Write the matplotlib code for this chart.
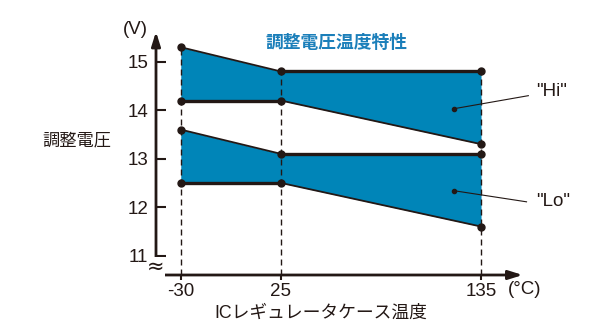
import matplotlib
matplotlib.use('Agg')
import matplotlib.pyplot as plt

# ---- data ----
temps = [-30, 25, 135]
hi_upper = [15.3, 14.8, 14.8]
hi_lower = [14.2, 14.2, 13.3]
lo_upper = [13.6, 13.1, 13.1]
lo_lower = [12.5, 12.5, 11.6]
yticks = [11, 12, 13, 14, 15]
title = '調整電圧温度特性'
ylabel = '調整電圧'
xlabel = 'ICレギュレータケース温度'
band_labels = ['"Hi"', '"Lo"']
# leader lines: (anchor point inside band, line end, text position)
leader_anchor = [(120, 14.03), (120, 12.34)]
leader_end = [(161, 14.30), (160, 12.11)]
leader_text = [(165.2, 14.38), (165.2, 12.11)]

plt.rcParams['font.family'] = ['Liberation Sans', 'Noto Sans CJK JP', 'DejaVu Sans']
plt.rcParams['axes.unicode_minus'] = False
INK = '#231815'
FILL = '#0085b8'
TITLE_C = '#1b7fba'

fig = plt.figure(figsize=(6, 3.3), dpi=100)
ax = fig.add_axes([156/600, 55/330, 366.7/600, 243.3/330])
ax.set_xlim(-43.6, 157.9)
ax.set_ylim(10.60, 15.62)
for s in ax.spines.values():
    s.set_visible(False)
ax.set_xticks(temps)
ax.set_yticks(yticks)
ax.tick_params(axis='x', direction='out', length=3.6, width=1.5, pad=2,
               labelsize=13.5, colors=INK)
ax.tick_params(axis='y', direction='in', length=7, width=1.5, pad=5.5,
               labelsize=13.5, colors=INK)

# axes with arrows
ap = dict(arrowstyle='-|>,head_length=0.7,head_width=0.22', color=INK, lw=2,
          shrinkA=0, shrinkB=0, mutation_scale=12)
ax.annotate('', xy=(1, 0), xytext=(0, 0), xycoords='axes fraction', arrowprops=ap)
ax.annotate('', xy=(0, 1), xytext=(0, 0), xycoords='axes fraction', arrowprops=ap)

# bands
for lo, up in [(hi_lower, hi_upper), (lo_lower, lo_upper)]:
    ax.fill_between(temps, lo, up, color=FILL, lw=0, zorder=1)

# dashed guide lines
ax.vlines(temps, ax.get_ylim()[0], hi_upper, colors=INK, lw=1.0,
          linestyles=(0, (4.3, 2.9)), zorder=2)

# boundary lines
for arr in [hi_upper, hi_lower, lo_upper, lo_lower]:
    for i in range(len(temps) - 1):
        lw = 2.4 if arr[i] == arr[i + 1] else 1.3
        ax.plot(temps[i:i + 2], arr[i:i + 2], color=INK, lw=lw,
                solid_capstyle='butt', zorder=3)
    ax.plot(temps, arr, 'o', ms=5, color=INK, zorder=5, clip_on=False)

# band labels
for lab, a, e, t in zip(band_labels, leader_anchor, leader_end, leader_text):
    ax.plot([a[0], e[0]], [a[1], e[1]], color=INK, lw=0.8, clip_on=False, zorder=4)
    ax.plot(a[0], a[1], 'o', ms=3, color=INK, clip_on=False, zorder=4)
    ax.text(t[0], t[1], lab, ha='left', va='center', fontsize=13.5, color=INK)

# texts
fig.text(336.7/600, 1 - 43.3/330, title, ha='center', va='center',
         fontsize=12.8, fontweight='bold', color=TITLE_C)
fig.text(77/600, 1 - 141/330, ylabel, ha='center', va='center',
         fontsize=12.4, color=INK)
fig.text(320.8/600, 1 - 313/330, xlabel, ha='center', va='center',
         fontsize=12.8, color=INK)
fig.text(525/600, 1 - 290/330, '(°C)', ha='center', va='center',
         fontsize=13.5, color=INK)
fig.text(135.5/600, 1 - 30/330, '(V)', ha='center', va='center',
         fontsize=13.5, color=INK)
fig.text(156/600, 1 - 267/330, '≈', ha='center', va='center', fontsize=15,
         family='DejaVu Sans', color=INK,
         bbox=dict(fc='white', ec='none', pad=0.0))

fig.savefig('out.png', dpi=100)
